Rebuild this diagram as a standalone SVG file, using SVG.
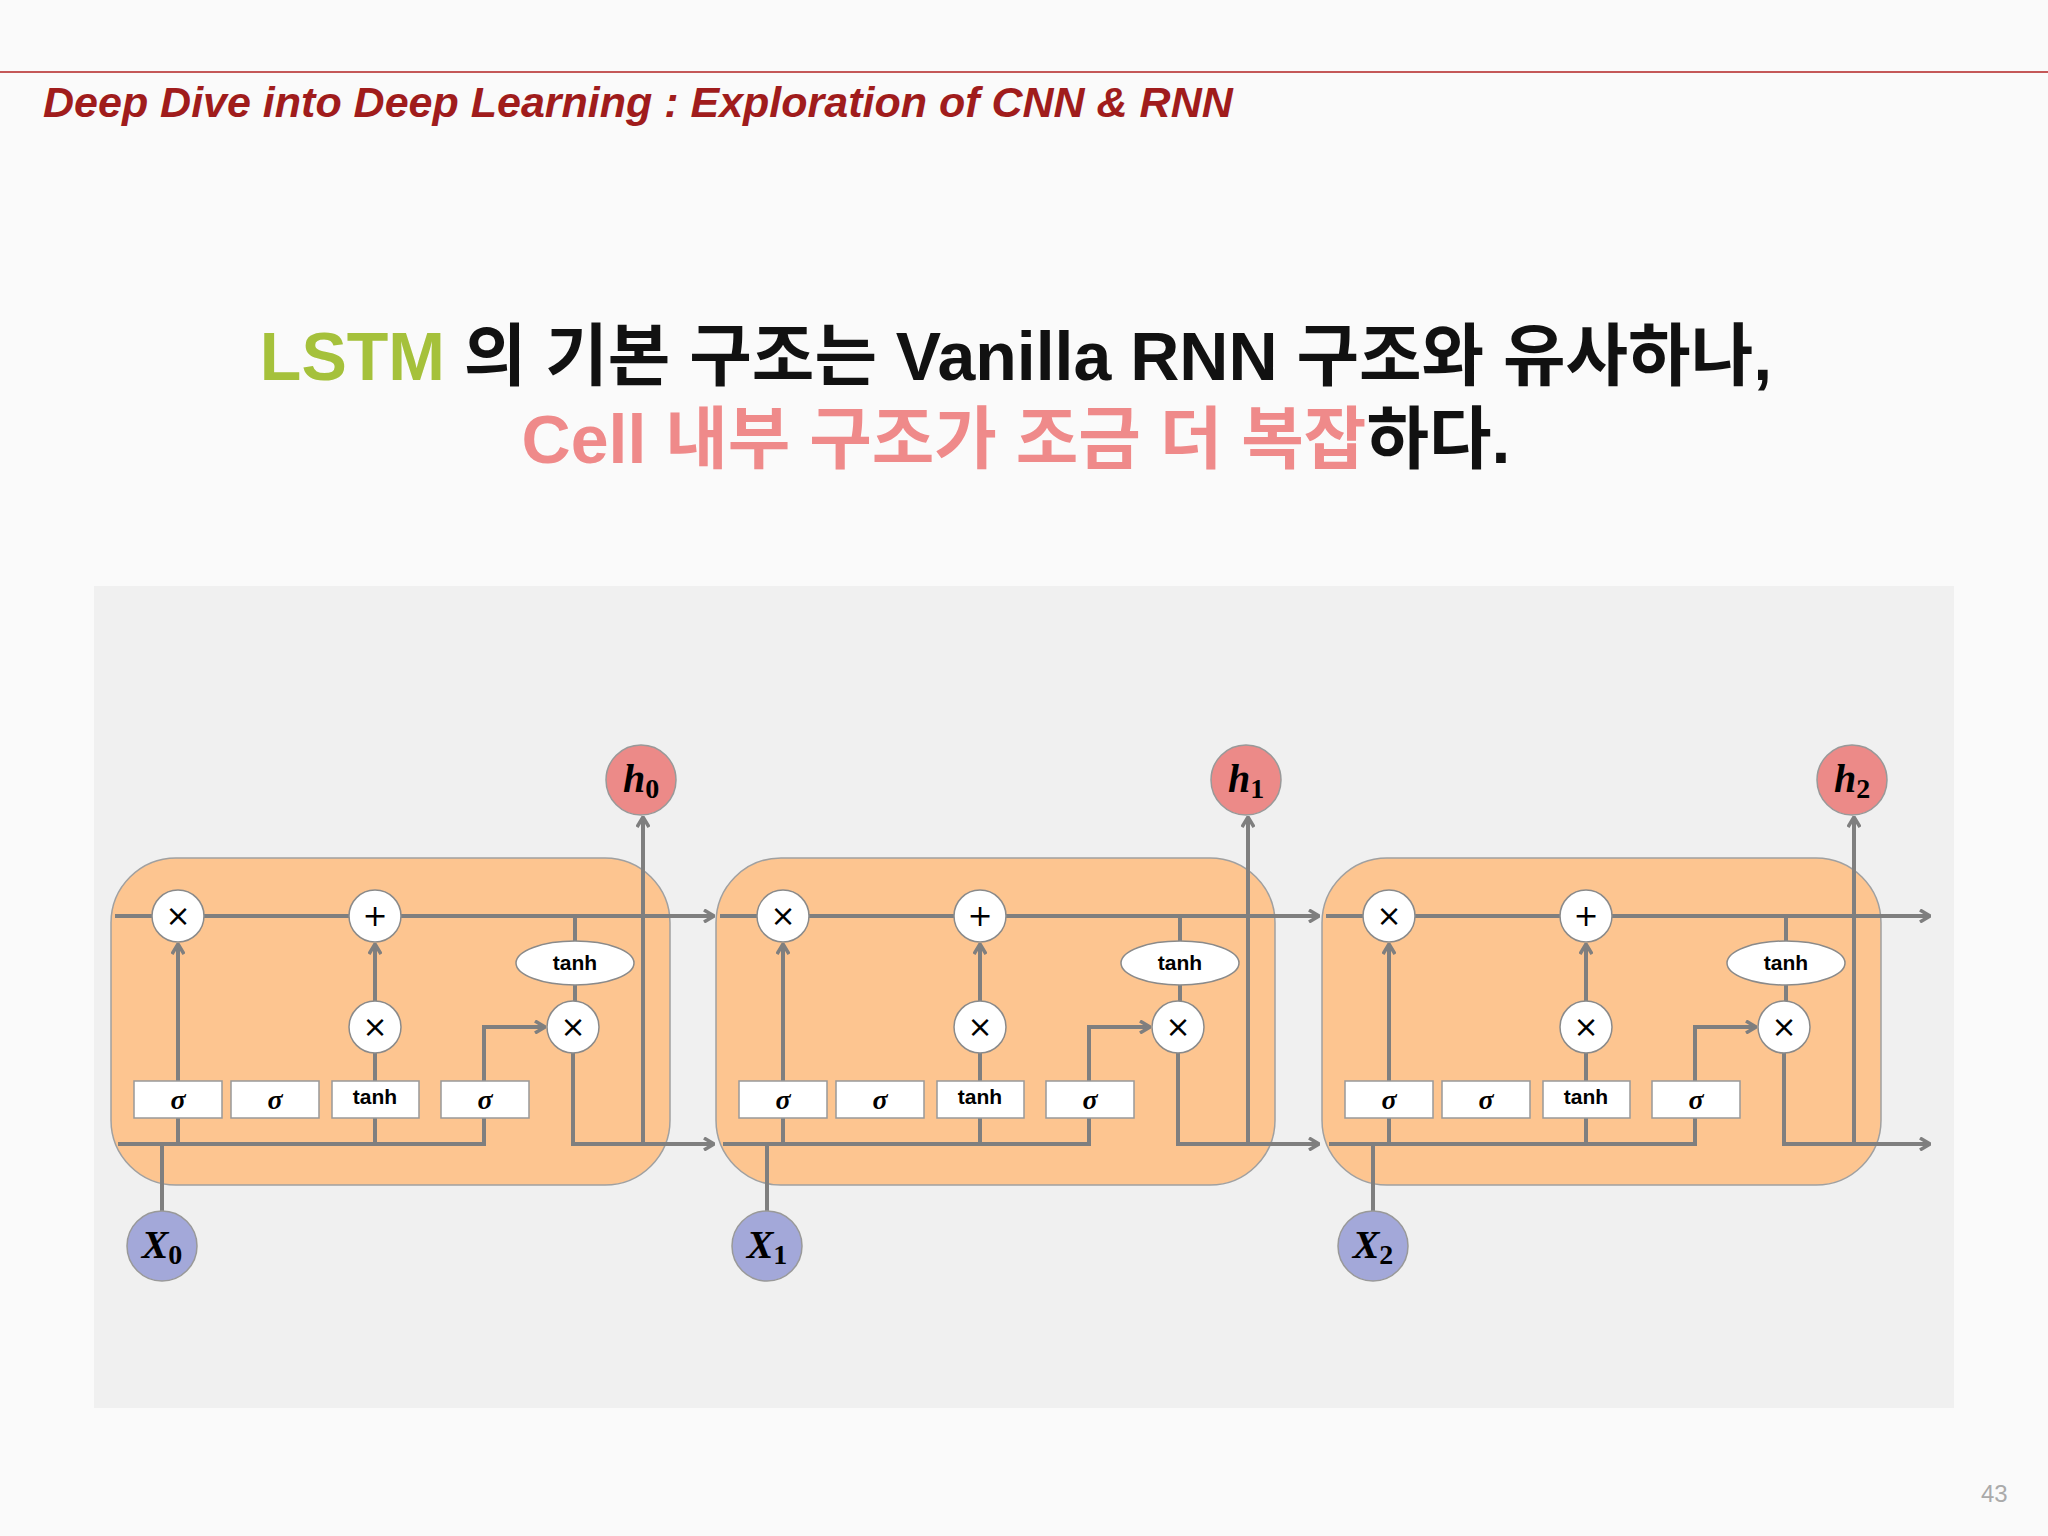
<svg xmlns="http://www.w3.org/2000/svg" width="2048" height="1536" viewBox="0 0 2048 1536">
<style>
.ln{stroke:#7f7f7f;stroke-width:4;fill:none}
.op{fill:#fff;stroke:#8a8a8a;stroke-width:1.5}
.sym{font-family:"DejaVu Sans",sans-serif;font-size:30px;text-anchor:middle;fill:#000}
.bx{fill:#fff;stroke:#999;stroke-width:1.5}
.sg{font-family:"Liberation Serif",serif;font-weight:bold;font-style:italic;font-size:28px;text-anchor:middle}
.th{font-family:"Liberation Sans",sans-serif;font-weight:bold;font-size:21px;text-anchor:middle}
.cell{fill:#fdc590;stroke:#a0a0a0;stroke-width:1.5}
.lab{font-family:"Liberation Serif",serif;font-weight:bold;font-size:40px;text-anchor:middle}
</style>
<defs>
<marker id="ar" markerWidth="12" markerHeight="14" refX="11" refY="7" orient="auto" markerUnits="userSpaceOnUse"><path d="M1,1 L11,7 L1,13" fill="none" stroke="#7f7f7f" stroke-width="3.5"/></marker>
</defs>
<rect width="2048" height="1536" fill="#fafafa"/>
<line x1="0" y1="72" x2="2048" y2="72" stroke="#b22222" stroke-width="1.5"/>
<text x="43" y="117" font-family="Liberation Sans,sans-serif" font-weight="bold" font-style="italic" font-size="43" fill="#a01c1c">Deep Dive into Deep Learning : Exploration of CNN &amp; RNN</text>
<text x="1981" y="1502" font-family="Liberation Sans,sans-serif" font-size="24" fill="#aaa">43</text>
<text x="1016" y="380" text-anchor="middle" font-family="Liberation Sans,'Noto Sans CJK KR',sans-serif" font-weight="bold" font-size="68" fill="#111"><tspan fill="#a5c13b">LSTM</tspan> 의 기본 구조는 Vanilla RNN 구조와 유사하나,</text>
<text x="1016" y="463" text-anchor="middle" font-family="Liberation Sans,'Noto Sans CJK KR',sans-serif" font-weight="bold" font-size="68" fill="#111"><tspan fill="#ef8a8a">Cell 내부 구조가 조금 더 복잡</tspan>하다.</text>
<rect x="94" y="586" width="1860" height="822" fill="#f0f0f0"/>

<g id="cells">
<rect id="cell0" class="cell" x="111" y="858" width="559" height="327" rx="65"/>
<rect id="cell1" class="cell" x="716" y="858" width="559" height="327" rx="65"/>
<rect id="cell2" class="cell" x="1322" y="858" width="559" height="327" rx="65"/>
</g>

<g id="connectors">
<g id="conn0">
<path class="ln" d="M115,916 H714" marker-end="url(#ar)"/>
<path class="ln" d="M118,1144 H484 V1027 H545" marker-end="url(#ar)"/>
<path class="ln" d="M162,1211 V1144"/>
<path class="ln" d="M178,1144 V944" marker-end="url(#ar)"/>
<path class="ln" d="M375,1144 V1027"/>
<path class="ln" d="M375,1027 V944" marker-end="url(#ar)"/>
<path class="ln" d="M575,916 V1027"/>
<path class="ln" d="M573,1027 V1144 H714" marker-end="url(#ar)"/>
<path class="ln" d="M643,1144 V817" marker-end="url(#ar)"/>
</g>
<g id="conn1" transform="translate(605,0)">
<path class="ln" d="M115,916 H714" marker-end="url(#ar)"/>
<path class="ln" d="M118,1144 H484 V1027 H545" marker-end="url(#ar)"/>
<path class="ln" d="M162,1211 V1144"/>
<path class="ln" d="M178,1144 V944" marker-end="url(#ar)"/>
<path class="ln" d="M375,1144 V1027"/>
<path class="ln" d="M375,1027 V944" marker-end="url(#ar)"/>
<path class="ln" d="M575,916 V1027"/>
<path class="ln" d="M573,1027 V1144 H714" marker-end="url(#ar)"/>
<path class="ln" d="M643,1144 V817" marker-end="url(#ar)"/>
</g>
<g id="conn2" transform="translate(1211,0)">
<path class="ln" d="M115,916 H719" marker-end="url(#ar)"/>
<path class="ln" d="M118,1144 H484 V1027 H545" marker-end="url(#ar)"/>
<path class="ln" d="M162,1211 V1144"/>
<path class="ln" d="M178,1144 V944" marker-end="url(#ar)"/>
<path class="ln" d="M375,1144 V1027"/>
<path class="ln" d="M375,1027 V944" marker-end="url(#ar)"/>
<path class="ln" d="M575,916 V1027"/>
<path class="ln" d="M573,1027 V1144 H719" marker-end="url(#ar)"/>
<path class="ln" d="M643,1144 V817" marker-end="url(#ar)"/>
</g>
</g>

<g id="nodes0">
<g id="forget0"><circle class="op" cx="178" cy="916" r="26"/><text class="sym" x="178" y="926">×</text></g>
<g id="add0"><circle class="op" cx="375" cy="916" r="26"/><text class="sym" x="375" y="926">+</text></g>
<g id="in0"><circle class="op" cx="375" cy="1027" r="26"/><text class="sym" x="375" y="1037">×</text></g>
<g id="out0"><circle class="op" cx="573" cy="1027" r="26"/><text class="sym" x="573" y="1037">×</text></g>
<g id="tanhc0"><ellipse class="op" cx="575" cy="963" rx="59" ry="22"/><text class="th" x="575" y="970">tanh</text></g>
<g id="g0a"><rect class="bx" x="134" y="1081" width="88" height="37"/><text class="sg" x="178" y="1109">σ</text></g>
<g id="g0b"><rect class="bx" x="231" y="1081" width="88" height="37"/><text class="sg" x="275" y="1109">σ</text></g>
<g id="g0c"><rect class="bx" x="332" y="1081" width="87" height="37"/><text class="th" x="375" y="1104">tanh</text></g>
<g id="g0d"><rect class="bx" x="441" y="1081" width="88" height="37"/><text class="sg" x="485" y="1109">σ</text></g>
<g id="h0"><circle cx="641" cy="780" r="35" fill="#ec8a88" stroke="#999" stroke-width="1.5"/><text class="lab" x="641" y="792"><tspan font-style="italic">h</tspan><tspan font-size="28" dy="6">0</tspan></text></g>
<g id="x0"><circle cx="162" cy="1246" r="35" fill="#a3a8d9" stroke="#999" stroke-width="1.5"/><text class="lab" x="162" y="1258"><tspan font-style="italic">X</tspan><tspan font-size="28" dy="6">0</tspan></text></g>
</g>

<g id="nodes1" transform="translate(605,0)">
<g id="forget1"><circle class="op" cx="178" cy="916" r="26"/><text class="sym" x="178" y="926">×</text></g>
<g id="add1"><circle class="op" cx="375" cy="916" r="26"/><text class="sym" x="375" y="926">+</text></g>
<g id="in1"><circle class="op" cx="375" cy="1027" r="26"/><text class="sym" x="375" y="1037">×</text></g>
<g id="out1"><circle class="op" cx="573" cy="1027" r="26"/><text class="sym" x="573" y="1037">×</text></g>
<g id="tanhc1"><ellipse class="op" cx="575" cy="963" rx="59" ry="22"/><text class="th" x="575" y="970">tanh</text></g>
<g id="g1a"><rect class="bx" x="134" y="1081" width="88" height="37"/><text class="sg" x="178" y="1109">σ</text></g>
<g id="g1b"><rect class="bx" x="231" y="1081" width="88" height="37"/><text class="sg" x="275" y="1109">σ</text></g>
<g id="g1c"><rect class="bx" x="332" y="1081" width="87" height="37"/><text class="th" x="375" y="1104">tanh</text></g>
<g id="g1d"><rect class="bx" x="441" y="1081" width="88" height="37"/><text class="sg" x="485" y="1109">σ</text></g>
<g id="h1"><circle cx="641" cy="780" r="35" fill="#ec8a88" stroke="#999" stroke-width="1.5"/><text class="lab" x="641" y="792"><tspan font-style="italic">h</tspan><tspan font-size="28" dy="6">1</tspan></text></g>
<g id="x1"><circle cx="162" cy="1246" r="35" fill="#a3a8d9" stroke="#999" stroke-width="1.5"/><text class="lab" x="162" y="1258"><tspan font-style="italic">X</tspan><tspan font-size="28" dy="6">1</tspan></text></g>
</g>

<g id="nodes2" transform="translate(1211,0)">
<g id="forget2"><circle class="op" cx="178" cy="916" r="26"/><text class="sym" x="178" y="926">×</text></g>
<g id="add2"><circle class="op" cx="375" cy="916" r="26"/><text class="sym" x="375" y="926">+</text></g>
<g id="in2"><circle class="op" cx="375" cy="1027" r="26"/><text class="sym" x="375" y="1037">×</text></g>
<g id="out2"><circle class="op" cx="573" cy="1027" r="26"/><text class="sym" x="573" y="1037">×</text></g>
<g id="tanhc2"><ellipse class="op" cx="575" cy="963" rx="59" ry="22"/><text class="th" x="575" y="970">tanh</text></g>
<g id="g2a"><rect class="bx" x="134" y="1081" width="88" height="37"/><text class="sg" x="178" y="1109">σ</text></g>
<g id="g2b"><rect class="bx" x="231" y="1081" width="88" height="37"/><text class="sg" x="275" y="1109">σ</text></g>
<g id="g2c"><rect class="bx" x="332" y="1081" width="87" height="37"/><text class="th" x="375" y="1104">tanh</text></g>
<g id="g2d"><rect class="bx" x="441" y="1081" width="88" height="37"/><text class="sg" x="485" y="1109">σ</text></g>
<g id="h2"><circle cx="641" cy="780" r="35" fill="#ec8a88" stroke="#999" stroke-width="1.5"/><text class="lab" x="641" y="792"><tspan font-style="italic">h</tspan><tspan font-size="28" dy="6">2</tspan></text></g>
<g id="x2"><circle cx="162" cy="1246" r="35" fill="#a3a8d9" stroke="#999" stroke-width="1.5"/><text class="lab" x="162" y="1258"><tspan font-style="italic">X</tspan><tspan font-size="28" dy="6">2</tspan></text></g>
</g>
</svg>
